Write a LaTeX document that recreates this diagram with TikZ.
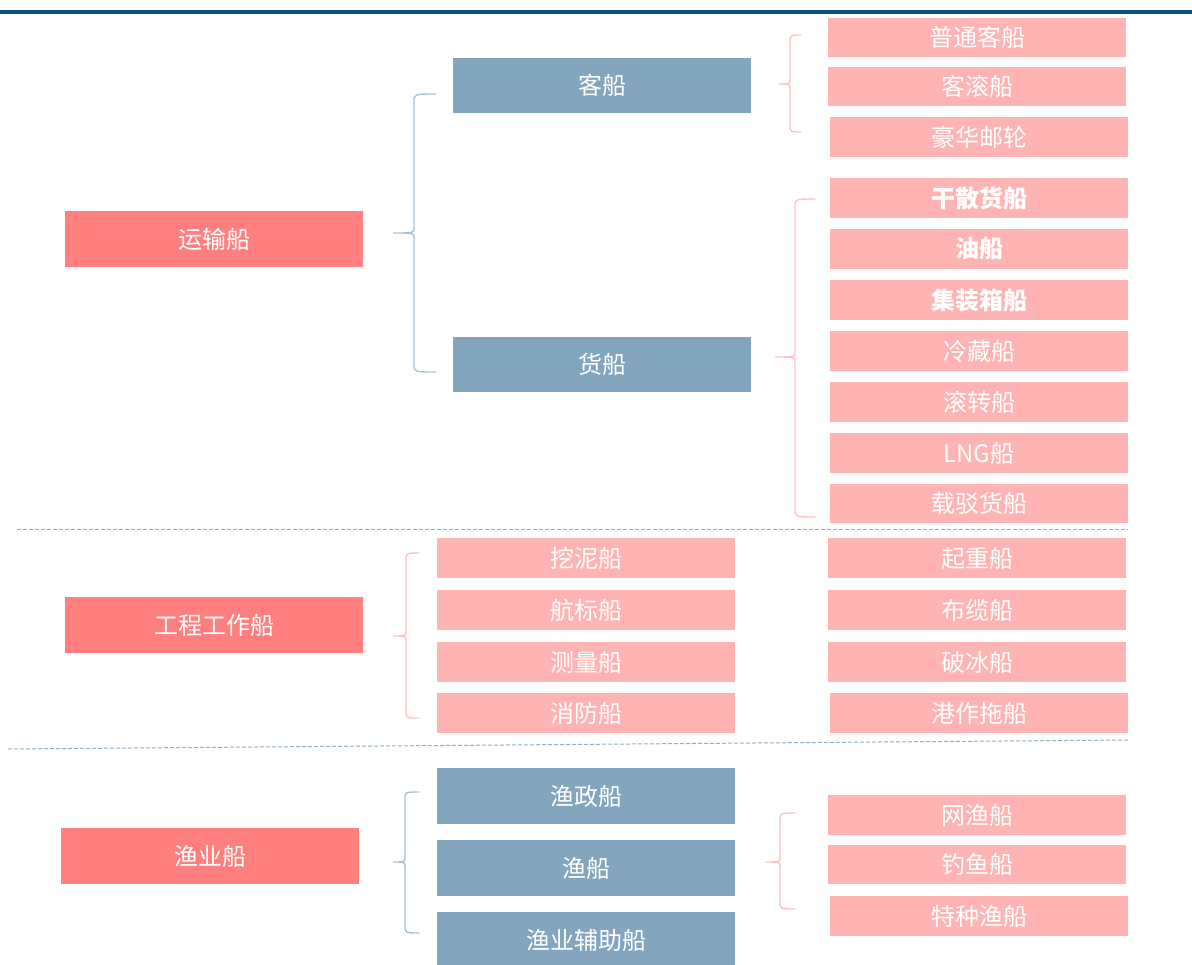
\documentclass[tikz,border=0pt]{standalone}
\usepackage{fontspec}
\newfontfamily\cjk{Noto Sans CJK SC}
\definecolor{topblue}{HTML}{0B4F84}
\definecolor{lvlone}{HTML}{FF7F7F}
\definecolor{lvltwo}{HTML}{83A6BE}
\definecolor{leafc}{HTML}{FFB3B3}
\definecolor{bracepink}{HTML}{FFC2C2}
\definecolor{braceblue}{HTML}{A8C3D6}
\definecolor{dashc}{HTML}{8FB0C8}
\newcommand\drawbrace[7]{%
  \draw[#7, line width=1.4pt, line cap=round]
    (#3,#4) .. controls (#2,#4) .. (#2,#4+8) -- (#2,#5-5)
    .. controls (#2,#5) .. (#1,#5)
    .. controls (#2,#5) .. (#2,#5+5) -- (#2,#6-8)
    .. controls (#2,#6) .. (#3,#6);}
\tikzset{
  box/.style={inner sep=0pt, minimum width=298pt, text=white,
    font=\cjk\fontsize{24}{24}\selectfont},
  one/.style={box, fill=lvlone, minimum height=56pt},
  two/.style={box, fill=lvltwo, minimum height=56pt},
  leaf/.style={box, fill=leafc, minimum height=40pt},
  boldleaf/.style={leaf, font=\cjk\bfseries\fontsize{24}{24}\selectfont},
  sep/.style={dashc, line width=1pt, dash pattern=on 4pt off 2pt}
}
\begin{document}
\begin{tikzpicture}[x=1pt,y=-1pt]
\useasboundingbox (0,0) rectangle (1192,965);
\fill[topblue] (0,10) rectangle (1192,14);
% level 1
\node[one] (ys) at (214,239) {运输船};
\node[one] (gc) at (214,625) {工程工作船};
\node[one] (yy) at (210,856) {渔业船};
% level 2
\node[two, minimum height=55pt] (kc) at (602,85.5) {客船};
\node[two, minimum height=55pt] (hc) at (602,364.5) {货船};
\node[two] (yz) at (586,796) {渔政船};
\node[two] (yc) at (586,868) {渔船};
\node[two] (yf) at (586,940) {渔业辅助船};
% passenger leaves
\node[leaf, minimum height=39pt] (l1) at (977,37.5) {普通客船};
\node[leaf, minimum height=39pt] (l2) at (977,86.5) {客滚船};
\node[leaf] (l3) at (979,137) {豪华邮轮};
% cargo leaves
\node[boldleaf] (c1) at (979,198) {干散货船};
\node[boldleaf] (c2) at (979,249) {油船};
\node[boldleaf] (c3) at (979,300) {集装箱船};
\node[leaf] (c4) at (979,351) {冷藏船};
\node[leaf] (c5) at (979,402) {滚转船};
\node[leaf] (c6) at (979,453) {LNG船};
\node[leaf, minimum height=39pt] (c7) at (979,503.5) {载驳货船};
% engineering leaves
\node[leaf] (e1) at (586,558) {挖泥船};
\node[leaf] (e2) at (586,610) {航标船};
\node[leaf] (e3) at (586,662) {测量船};
\node[leaf] (e4) at (586,713) {消防船};
\node[leaf] (e5) at (977,558) {起重船};
\node[leaf] (e6) at (977,610) {布缆船};
\node[leaf] (e7) at (977,662) {破冰船};
\node[leaf] (e8) at (979,713) {港作拖船};
% fishing leaves
\node[leaf] (f1) at (977,815) {网渔船};
\node[leaf, minimum height=39pt] (f2) at (977,864.5) {钓鱼船};
\node[leaf] (f3) at (979,916) {特种渔船};
% braces
\drawbrace{393}{414}{436}{94}{233}{372}{braceblue}
\drawbrace{779}{790}{801}{35}{84}{132}{bracepink}
\drawbrace{775}{795}{815}{199}{357}{517}{bracepink}
\drawbrace{393}{406}{419}{553}{636}{718}{bracepink}
\drawbrace{393}{405}{419}{792}{862}{933}{braceblue}
\drawbrace{765}{780}{795}{813}{862}{909}{bracepink}
% separators
\draw[sep] (17,529) -- (1128,529);
\draw[sep] (8,749) -- (1128,740);
\end{tikzpicture}
\end{document}
